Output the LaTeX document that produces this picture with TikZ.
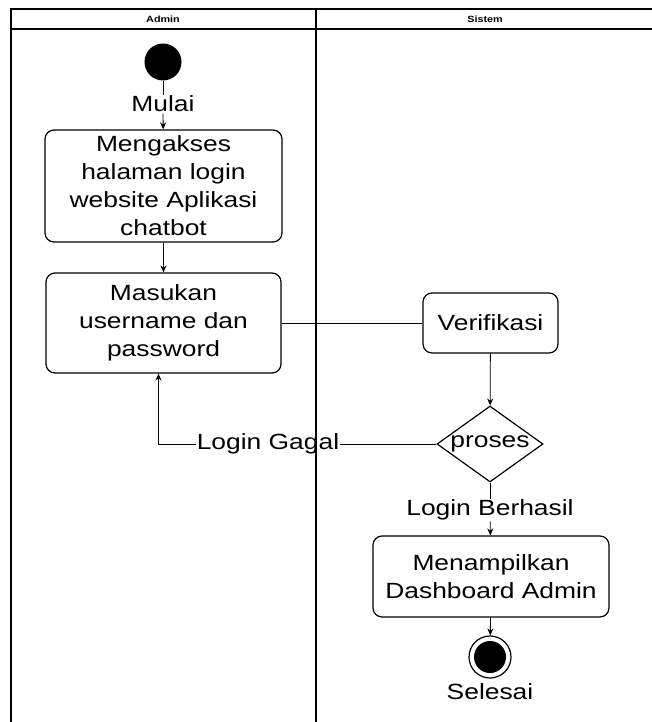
\documentclass[tikz,border=0pt]{standalone}
\usepackage{fontspec}
\setmainfont[FakeStretch=1.2]{Liberation Sans}
\usetikzlibrary{arrows.meta, shapes.geometric}

\tikzset{
  lane/.style = {line width=1.6pt},
  act/.style = {draw, rounded corners=9pt, line width=1.2pt, align=center,
                font=\fontsize{22}{28}\selectfont, inner sep=0pt},
  lbl/.style = {font=\fontsize{22}{26}\selectfont, inner sep=1pt},
  flow/.style = {-{Stealth[length=7pt,width=6pt]}, line width=0.8pt},
  link/.style = {line width=0.8pt}
}

\begin{document}
\begin{tikzpicture}[x=1pt, y=-1pt]
\useasboundingbox (0,0) rectangle (652,722);
% swimlanes
\draw[lane] (652,9) -- (11,9) -- (11,722);
\draw[lane] (11,29) -- (652,29);
\draw[lane] (316,9) -- (316,722);
\node[font=\fontsize{9}{10}\selectfont\bfseries] (admin) at (163,19) {Admin};
\node[font=\fontsize{9}{10}\selectfont\bfseries] (sistem) at (485,19) {Sistem};

\node[circle, fill=black, minimum width=37pt, minimum height=37pt, inner sep=0pt] (start) at (163,62) {};
\node[lbl] (mulai) at (163,104) {Mulai};
\node[act, minimum width=237pt, minimum height=112pt] (akses) at (163.5,186) {Mengakses\\halaman login\\website Aplikasi\\chatbot};
\node[act, minimum width=235pt, minimum height=100pt] (masukan) at (163.5,323) {Masukan\\username dan\\password};
\node[act, minimum width=135pt, minimum height=60pt] (verif) at (490.5,323) {Verifikasi};
\node[draw, diamond, line width=1.2pt, inner sep=0pt, minimum width=106pt, minimum height=76pt] (proses) at (490,444) {};
\node[lbl] (prosesTxt) at (proses) {proses};
\node[lbl] (gagal) at (268,444) {Login Gagal};
\node[lbl] (berhasil) at (490,510) {Login Berhasil};
\node[act, minimum width=236pt, minimum height=81pt] (dashboard) at (491,576.5) {Menampilkan\\Dashboard Admin};
\node[circle, draw, line width=1.2pt, minimum size=42pt, inner sep=0pt] (ring) at (490,657) {};
\node[circle, fill=black, minimum size=32pt, inner sep=0pt] (selesai) at (490,657) {};
\node[lbl] (selesaiLbl) at (490,692) {Selesai};

\draw[link] (start) -- (mulai);
\draw[flow] (mulai) -- (akses);
\draw[flow] (akses) -- (masukan);
\draw[link] (masukan.east) -- (verif.west);
\draw[flow] (verif) -- (proses);
\draw[link] (proses.west) -- (gagal.east);
\draw[flow] (gagal.west) -| ([xshift=-5pt]masukan.south);
\draw[link] (proses.south) -- (berhasil);
\draw[flow] (berhasil) -- (dashboard);
\draw[flow] (dashboard) -- (ring);
\end{tikzpicture}
\end{document}
